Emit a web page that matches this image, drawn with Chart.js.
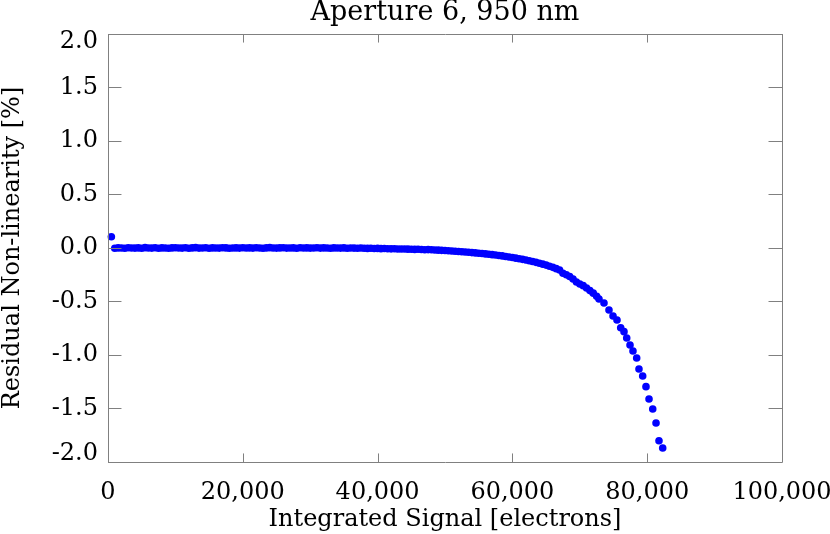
<!DOCTYPE html>
<html>
<head>
<meta charset="utf-8">
<script src="https://cdn.jsdelivr.net/npm/chart.js@4.4.1/dist/chart.umd.min.js"></script>
<style>
  html, body { margin: 0; padding: 0; background: #fff; }
  #wrap { width: 830px; height: 534px; }
</style>
</head>
<body>
<div id="wrap"><canvas id="chart"></canvas></div>
<script>
// integrated signal [electrons]
const signal = [
  500, 1000, 1500, 2000, 2500, 3000, 3500, 4000, 4500, 5000,
  5500, 6000, 6500, 7000, 7500, 8000, 8500, 9000, 9500, 10000,
  10500, 11000, 11500, 12000, 12500, 13000, 13500, 14000, 14500, 15000,
  15500, 16000, 16500, 17000, 17500, 18000, 18500, 19000, 19500, 20000,
  20500, 21000, 21500, 22000, 22500, 23000, 23500, 24000, 24500, 25000,
  25500, 26000, 26500, 27000, 27500, 28000, 28500, 29000, 29500, 30000,
  30500, 31000, 31500, 32000, 32500, 33000, 33500, 34000, 34500, 35000,
  35500, 36000, 36500, 37000, 37500, 38000, 38500, 39000, 39500, 40000,
  40500, 41000, 41500, 42000, 42500, 43000, 43500, 44000, 44500, 45000,
  45500, 46000, 46500, 47000, 47500, 48000, 48500, 49000, 49500, 50000,
  50500, 51000, 51500, 52000, 52500, 53000, 53500, 54000, 54500, 55000,
  55500, 56000, 56500, 57000, 57500, 58000, 58500, 59000, 59500, 60000,
  60500, 61000, 61500, 62000, 62500, 63000, 63500, 64000, 64500, 65000,
  65500, 66000, 66500, 67000,
  67500, 68000, 68500, 69000, 69500, 70000, 70500, 71000, 71500, 72000, 72500,
  72850, 73590, 74330, 74930, 75520, 76070, 76560, 76960, 77450, 77890,
  78440, 78780, 79330, 79820, 80270, 80820, 81310, 81750, 82300
];

// residual non-linearity [%]
const nonLinearity = [
  0.105,
  -0.002, 0.001, 0.000, -0.003, 0.002, 0.000, -0.001, 0.001, -0.002, 0.003,
  0.000, -0.001, 0.002, -0.002, 0.001, 0.000, -0.003, 0.001, 0.002,
  0.000, -0.001, 0.002, -0.002, 0.001, 0.003, -0.001, 0.000, 0.002, -0.002,
  0.001, 0.000, -0.001, 0.002, 0.001, -0.002, 0.000, 0.001, -0.001, 0.002,
  0.000, 0.001, -0.001, 0.002, 0.000, -0.002, 0.001, 0.003, 0.000, -0.001,
  0.001, 0.002, -0.001, 0.000, 0.001, -0.002, 0.002, 0.000, 0.001, -0.001,
  0.000, 0.002, -0.001, 0.001, 0.000, -0.002, 0.001, 0.000, -0.001, 0.001,
  -0.002, 0.000, -0.001, -0.003, 0.000, -0.002, -0.004, -0.003, -0.005, -0.004,
  -0.006, -0.005, -0.007, -0.008, -0.007, -0.009, -0.010, -0.009, -0.011, -0.012,
  -0.013, -0.012, -0.014, -0.016, -0.015, -0.017, -0.019, -0.020, -0.022, -0.024,
  -0.026, -0.028, -0.030, -0.033, -0.035, -0.038, -0.040, -0.043, -0.046, -0.049,
  -0.052, -0.055, -0.058, -0.062, -0.066, -0.070, -0.074, -0.079, -0.084, -0.089,
  -0.095, -0.100, -0.106, -0.112, -0.119, -0.126, -0.134, -0.142, -0.151, -0.160,
  -0.170, -0.181, -0.193, -0.206,
  -0.236, -0.250, -0.266, -0.290, -0.318, -0.336, -0.352, -0.374, -0.398, -0.422, -0.452,
  -0.477, -0.514, -0.579, -0.636, -0.673, -0.745, -0.782, -0.841, -0.907, -0.963,
  -1.028, -1.131, -1.196, -1.296, -1.411, -1.505, -1.636, -1.801, -1.869
];

const xTicks = [0, 20000, 40000, 60000, 80000, 100000];
const yTicks = [-2.0, -1.5, -1.0, -0.5, 0.0, 0.5, 1.0, 1.5, 2.0];

const FONT = "'DejaVu Serif', 'Liberation Serif', serif";

// IDL style box with inward ticks on all four sides
const frameTicks = {
  id: "frameTicks",
  afterDatasetsDraw(chart) {
    const { ctx, chartArea: a, scales } = chart;
    ctx.save();
    ctx.strokeStyle = "#808080";
    ctx.lineWidth = 1;
    ctx.beginPath();
    ctx.rect(Math.round(a.left) + 0.5, Math.round(a.top) + 0.5,
      Math.round(a.right - a.left), Math.round(a.bottom - a.top));
    const xLen = (a.bottom - a.top) * 0.02;
    const yLen = (a.right - a.left) * 0.02;
    xTicks.forEach(v => {
      const px = Math.round(scales.x.getPixelForValue(v)) + 0.5;
      ctx.moveTo(px, a.bottom); ctx.lineTo(px, a.bottom - xLen);
      ctx.moveTo(px, a.top); ctx.lineTo(px, a.top + xLen);
    });
    yTicks.forEach(v => {
      const py = Math.round(scales.y.getPixelForValue(v)) + 0.5;
      ctx.moveTo(a.left, py); ctx.lineTo(a.left + yLen, py);
      ctx.moveTo(a.right, py); ctx.lineTo(a.right - yLen, py);
    });
    ctx.stroke();
    ctx.restore();
  }
};

new Chart(document.getElementById("chart").getContext("2d"), {
  type: "scatter",
  data: {
    datasets: [{
      data: signal.map((s, i) => ({ x: s, y: nonLinearity[i] })),
      backgroundColor: "#0000ff",
      borderWidth: 0,
      pointRadius: 3.8,
      clip: false
    }]
  },
  options: {
    responsive: true,
    maintainAspectRatio: false,
    animation: false,
    layout: { padding: { left: 0, right: 48, top: 0, bottom: 0 } },
    plugins: {
      legend: { display: false },
      tooltip: { enabled: false },
      title: {
        display: true,
        fullSize: false,
        text: "Aperture 6, 950 nm",
        color: "#000",
        font: { family: FONT, size: 27, weight: "normal", lineHeight: 0.944 },
        padding: { top: 0, bottom: 8.5 }
      }
    },
    scales: {
      x: {
        type: "linear",
        min: 0,
        max: 100000,
        afterBuildTicks: s => { s.ticks = xTicks.map(v => ({ value: v })); },
        afterFit: s => { s.height = 72; s.paddingLeft = 0; s.paddingRight = 0; },
        grid: { display: false, drawTicks: false },
        border: { display: false },
        ticks: {
          color: "#000",
          padding: 16,
          maxRotation: 0,
          autoSkip: false,
          font: { family: FONT, size: 24 },
          callback: v => v.toLocaleString("en-US")
        },
        title: {
          display: true,
          text: "Integrated Signal [electrons]",
          color: "#000",
          font: { family: FONT, size: 24 },
          padding: 0
        }
      },
      y: {
        min: -2,
        max: 2,
        afterBuildTicks: s => { s.ticks = yTicks.map(v => ({ value: v })); },
        afterFit: s => { s.width = 108; },
        grid: { display: false, drawTicks: false },
        border: { display: false },
        ticks: {
          color: "#000",
          padding: 10,
          autoSkip: false,
          font: { family: FONT, size: 24, lineHeight: 0.67 },
          // end labels sit inside the frame, as in the original
          callback: v => v === 2 ? ["", "2.0"] : v === -2 ? ["-2.0", ""] : v.toFixed(1)
        },
        title: {
          display: true,
          text: "Residual Non-linearity [%]",
          color: "#000",
          font: { family: FONT, size: 24, lineHeight: 1.1 },
          padding: 0
        }
      }
    }
  },
  plugins: [frameTicks]
});
</script>
</body>
</html>
